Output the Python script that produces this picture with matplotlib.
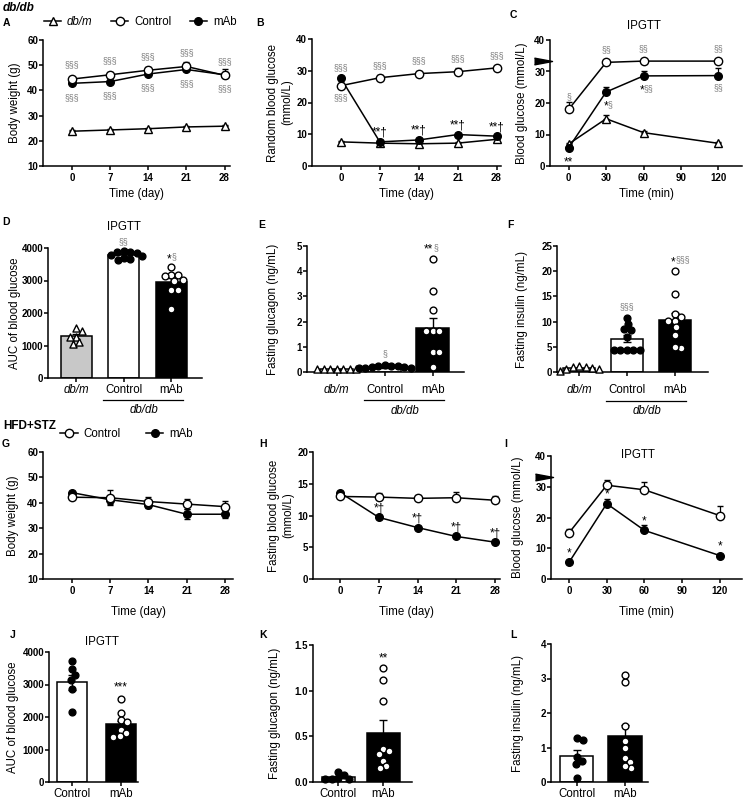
import numpy as np
import matplotlib
matplotlib.use('Agg')
import matplotlib.pyplot as plt
from matplotlib.lines import Line2D

plt.rcParams['font.family'] = ['Liberation Sans', 'DejaVu Sans']
plt.rcParams['axes.linewidth'] = 1.1
plt.rcParams['xtick.major.width'] = 1.1
plt.rcParams['ytick.major.width'] = 1.1
plt.rcParams['xtick.major.size'] = 3
plt.rcParams['ytick.major.size'] = 3

# ---------------- data ----------------
days = [0, 7, 14, 21, 28]
ipgtt_min = [0, 30, 60, 120]
groups3 = ['db/m', 'Control', 'mAb']
groups2 = ['Control', 'mAb']

# A: body weight db/db
a_dbm = [23.8, 24.3, 24.8, 25.5, 25.8]
a_dbm_err = [0.4, 0.4, 0.4, 0.4, 0.4]
a_ctrl = [44.5, 46.2, 48.0, 49.5, 46.0]
a_ctrl_err = [0.9, 1.0, 1.2, 1.8, 2.3]
a_mab = [42.8, 43.5, 46.5, 48.3, 46.2]
a_mab_err = [0.6, 0.7, 0.8, 0.9, 1.0]
a_ctrl_sig = ['§§§', '§§§', '§§§', '§§§', '§§§']
a_mab_sig = ['§§§', '§§§', '§§§', '§§§', '§§§']

# B: random blood glucose db/db
b_dbm = [7.6, 7.2, 7.0, 7.2, 8.4]
b_dbm_err = [0.3, 0.3, 0.3, 0.3, 0.4]
b_ctrl = [25.3, 27.8, 29.1, 29.7, 30.9]
b_ctrl_err = [0.8, 1.0, 0.7, 1.2, 0.6]
b_mab = [27.6, 7.6, 8.2, 9.9, 9.4]
b_mab_err = [0.6, 0.5, 0.5, 0.6, 0.6]
b_ctrl_sig = ['§§§', '§§§', '§§§', '§§§', '§§§']
b_mab_sig = ['§§§', '**†', '**†', '**†', '**†']

# C: IPGTT db/db
c_dbm = [7.0, 15.0, 10.6, 7.2]
c_dbm_err = [0.4, 1.3, 0.5, 0.4]
c_ctrl = [18.0, 32.9, 33.3, 33.3]
c_ctrl_err = [2.2, 0.3, 0.2, 0.2]
c_mab = [5.8, 23.5, 28.6, 28.7]
c_mab_err = [0.6, 1.5, 1.4, 2.3]
c_ctrl_sig = ['§', '§§', '§§', '§§']
c_mab_sig = ['**', '*§', '*§§', '§§']
meter_limit = 33.3

# D: AUC db/db
d_means = [1280, 3770, 2950]
d_sem = [75, 35, 120]
d_dbm_pts = [1550, 1450, 1270, 1270, 1040, 1100]
d_ctrl_pts = [3880, 3850, 3870, 3900, 3700, 3650, 3640, 3750, 3800]
d_mab_pts = [3420, 3180, 3160, 3150, 3030, 3000, 2720, 2700, 2120]
d_sig = ['', '§§', '*§']

# E: fasting glucagon db/db
e_means = [0.10, 0.18, 1.75]
e_sem = [0.01, 0.02, 0.40]
e_dbm_pts = [0.10, 0.11, 0.10, 0.12, 0.10, 0.11, 0.10]
e_ctrl_pts = [0.15, 0.18, 0.22, 0.25, 0.28, 0.20, 0.17, 0.24, 0.15]
e_mab_pts = [4.5, 3.2, 2.45, 1.62, 1.62, 1.62, 0.78, 0.78, 0.21]
e_sig = ['', '§', '**§']

# F: fasting insulin db/db
f_means = [0.7, 6.6, 10.4]
f_sem = [0.1, 0.7, 1.4]
f_dbm_pts = [0.9, 0.7, 0.5, 0.1, 0.6, 1.0, 1.1]
f_ctrl_pts = [10.8, 9.6, 8.6, 8.3, 7.0, 4.4, 4.4, 4.4, 4.4, 4.4]
f_mab_pts = [20.0, 15.5, 11.5, 11.0, 10.2, 10.2, 9.0, 7.3, 4.8, 5.0]
f_sig = ['', '§§§', '*§§§']

# G: body weight HFD+STZ
g_ctrl = [42.2, 42.0, 40.5, 39.5, 38.5]
g_ctrl_err = [0.6, 3.0, 1.8, 2.0, 2.2]
g_mab = [44.0, 41.2, 39.3, 35.5, 35.5]
g_mab_err = [0.7, 1.6, 1.3, 2.0, 1.5]

# H: fasting blood glucose HFD+STZ
h_ctrl = [13.0, 12.9, 12.7, 12.8, 12.4]
h_ctrl_err = [0.4, 0.7, 0.6, 0.9, 0.7]
h_mab = [13.6, 9.7, 8.1, 6.7, 5.8]
h_mab_err = [0.3, 0.4, 0.3, 0.3, 0.2]
h_mab_sig = ['', '*†', '*†', '*†', '*†']

# I: IPGTT HFD+STZ
i_ctrl = [15.0, 30.5, 29.0, 20.6]
i_ctrl_err = [1.2, 1.6, 2.4, 3.3]
i_mab = [5.4, 24.5, 15.8, 7.6]
i_mab_err = [0.4, 1.5, 1.8, 0.5]
i_mab_sig = ['*', '*', '*', '*']

# J: AUC HFD+STZ
j_means = [3070, 1780]
j_sem = [230, 110]
j_ctrl_pts = [3735, 3470, 3300, 3150, 2850, 2160]
j_mab_pts = [2550, 2130, 1920, 1850, 1600, 1500, 1380, 1410]
j_sig = ['', '***']

# K: fasting glucagon HFD+STZ
k_means = [0.055, 0.54]
k_sem = [0.015, 0.135]
k_ctrl_pts = [0.08, 0.11, 0.04, 0.03, 0.03, 0.03]
k_mab_pts = [1.25, 1.12, 0.89, 0.36, 0.34, 0.31, 0.23, 0.17, 0.15]
k_sig = ['', '**']

# L: fasting insulin HFD+STZ
l_means = [0.74, 1.33]
l_sem = [0.18, 0.33]
l_ctrl_pts = [1.22, 1.27, 0.72, 0.61, 0.51, 0.11]
l_mab_pts = [2.91, 3.10, 1.62, 1.19, 0.99, 0.70, 0.59, 0.41, 0.46]
l_sig = ['', '']

# ---------------- layout helpers ----------------
W, H = 747, 799
fig = plt.figure(figsize=(W / 100, H / 100), dpi=100)
GRAY = '#7a7a7a'
LAB = 8.3
TICK = 7


def make_ax(box, xlim, ylim, yticks, ylabels=None):
    l, t, r, b = box
    ax = fig.add_axes([l / W, 1 - b / H, (r - l) / W, (b - t) / H])
    ax.spines['top'].set_visible(False)
    ax.spines['right'].set_visible(False)
    ax.set_xlim(xlim)
    ax.set_ylim(ylim)
    if ylabels is None:
        ylabels = [str(v) for v in yticks]
    ax.set_yticks(yticks, labels=ylabels, fontweight='bold', fontsize=TICK)
    ax.tick_params(axis='y', pad=0.5)
    ax.tick_params(axis='x', pad=2)
    return ax


def set_ylab(ax, box, text, x_px):
    l, t, r, b = box
    ax.set_ylabel(text, fontsize=LAB, va='center', ha='center', multialignment='center')
    ax.yaxis.set_label_coords((x_px - l) / (r - l), 0.5)


def set_xlab(ax, box, text, y_px):
    l, t, r, b = box
    ax.set_xlabel(text, fontsize=LAB, va='center')
    ax.xaxis.set_label_coords(0.5, -(y_px - b) / (b - t))


def fig_text(x, y, s, **kw):
    fig.text(x / W, 1 - y / H, s, **kw)


def series(ax, x, y, err, marker, mfc, ms=6, two_sided=False):
    lower = err if two_sided else [0] * len(err)
    ax.errorbar(x, y, yerr=[lower, err], color='k', lw=1.1, marker=marker, ms=ms,
                mfc=mfc, mec='k', mew=1.0, capsize=2.3, elinewidth=0.9,
                capthick=0.9, zorder=3, clip_on=False)


def draw_sig(ax, xy, s, dx, dy):
    # black stars / daggers, gray section signs
    black = ''.join(c for c in s if c != '§')
    gray = ''.join(c for c in s if c == '§')
    kw = dict(xycoords='data', textcoords='offset points', va='center',
              annotation_clip=False)
    if black and gray:
        ax.annotate(black, xy, xytext=(dx + 0.3, dy - 1.5), ha='right', fontsize=8.5,
                    color='k', **kw)
        ax.annotate(gray, xy, xytext=(dx + 0.3, dy), ha='left', fontsize=6.3,
                    color=GRAY, **kw)
    elif black:
        ax.annotate(black, xy, xytext=(dx, dy - 1.5), ha='center', fontsize=8.5,
                    color='k', **kw)
    else:
        ax.annotate(gray, xy, xytext=(dx, dy), ha='center', fontsize=6.3,
                    color=GRAY, **kw)


def sig(ax, x, y, labels, dy_pt, dx_pt=None):
    for i, (xi, yi, s) in enumerate(zip(x, y, labels)):
        if s:
            dx = 0 if dx_pt is None else dx_pt[i]
            draw_sig(ax, (xi, yi), s, dx, dy_pt)


def meter_arrow(ax, box, y):
    l, t, r, b = box
    xa = -7.5 / (r - l)
    ax.plot([xa], [y], marker=[(-1.6, 0.6), (1.6, 0), (-1.6, -0.6)], ms=13, color='k',
            transform=ax.get_yaxis_transform(), clip_on=False, zorder=6)


def swarm_x(ax, xc, vals, dpx):
    disp = ax.transData.transform(np.column_stack([np.full(len(vals), xc), vals]))
    cx = disp[0, 0]
    ys = disp[:, 1]
    xs = np.full(len(vals), cx)
    placed = []
    for i in np.argsort(-ys):
        for k in range(400):
            m = (k + 1) // 2
            off = m * 0.5 * (1 if k % 2 else -1)
            if all((cx + off - px) ** 2 + (ys[i] - py) ** 2 >= dpx ** 2 for px, py in placed):
                break
        xs[i] = cx + off
        placed.append((xs[i], ys[i]))
    return ax.transData.inverted().transform(np.column_stack([xs, ys]))[:, 0]


STYLE = {
    'db/m': dict(marker='^', fc='white', s=26),
    'Control': dict(marker='o', fc='black', s=24),
    'mAb': dict(marker='o', fc='white', s=24),
}
BARC = {'db/m': '#c8c8c8', 'Control': 'white', 'mAb': 'black'}


def bar_panel(ax, groups, means, sems, pts, width, sigs, sig_dy=8):
    xs = np.arange(len(groups))
    ax.bar(xs, means, width=width, color=[BARC[g] for g in groups], edgecolor='k',
           lw=1.1, zorder=2)
    ax.errorbar(xs, means, yerr=sems, fmt='none', ecolor='k', elinewidth=1.0,
                capsize=3, capthick=1.0, zorder=3)
    for xi, g, p in zip(xs, groups, pts):
        st = STYLE[g]
        px = swarm_x(ax, xi, p, 6.2)
        ax.scatter(px, p, s=st['s'], marker=st['marker'], facecolors=st['fc'],
                   edgecolors='k', linewidths=1.0, zorder=4, clip_on=False)
    for xi, p, s in zip(xs, pts, sigs):
        if s:
            draw_sig(ax, (xi, max(p)), s, 0, sig_dy)
    ax.set_xticks(xs, labels=groups, fontsize=LAB)
    for lbl, g in zip(ax.get_xticklabels(), groups):
        if g == 'db/m':
            lbl.set_fontstyle('italic')


def dbdb_bracket(ax, box, y_line, y_text):
    l, t, r, b = box
    yl = -(y_line - b) / (b - t)
    yt = -(y_text - b) / (b - t)
    ax.plot([0.57, 2.24], [yl, yl], color='k', lw=0.9,
            transform=ax.get_xaxis_transform(), clip_on=False)
    ax.text(1.42, yt, 'db/db', style='italic', fontsize=LAB, ha='center', va='center',
            transform=ax.get_xaxis_transform())


def title_at(ax, box, x_data, y_px):
    l, t, r, b = box
    ax.text(x_data, (b - y_px) / (b - t), 'IPGTT', fontsize=LAB, ha='center', va='center',
            transform=ax.get_xaxis_transform())


def day_axis(ax):
    ax.set_xticks(days, labels=[str(d) for d in days], fontweight='bold', fontsize=TICK)


def min_axis(ax):
    ticks = [0, 30, 60, 90, 120]
    ax.set_xticks(ticks, labels=[str(t) for t in ticks], fontweight='bold', fontsize=TICK)


# ---------------- row 1 ----------------
boxA = (43, 40, 230, 166)
axA = make_ax(boxA, (-5.3, 29.0), (10, 60), [10, 20, 30, 40, 50, 60])
day_axis(axA)
series(axA, days, a_dbm, a_dbm_err, '^', 'white', ms=6)
series(axA, days, a_mab, a_mab_err, 'o', 'black', ms=5.5)
series(axA, days, a_ctrl, a_ctrl_err, 'o', 'white')
sig(axA, days, a_ctrl, a_ctrl_sig, 10)
sig(axA, days, a_mab, a_mab_sig, -10)
set_ylab(axA, boxA, 'Body weight (g)', 15)
set_xlab(axA, boxA, 'Time (day)', 194)
handles = [Line2D([], [], color='k', lw=1.1, marker='^', ms=6, mfc='white', mec='k'),
           Line2D([], [], color='k', lw=1.1, marker='o', ms=6, mfc='white', mec='k'),
           Line2D([], [], color='k', lw=1.1, marker='o', ms=5.5, mfc='black', mec='k')]
leg = axA.legend(handles, groups3, loc='center', bbox_to_anchor=(0.52, 1.145), ncol=3,
                 frameon=False, fontsize=LAB, handlelength=1.5, handletextpad=0.5,
                 columnspacing=1.6, borderaxespad=0)
leg.get_texts()[0].set_fontstyle('italic')

boxB = (312, 39, 501, 166)
axB = make_ax(boxB, (-5.2, 28.8), (0, 40), [0, 10, 20, 30, 40])
day_axis(axB)
series(axB, days, b_dbm, b_dbm_err, '^', 'white', ms=6)
series(axB, days, b_mab, b_mab_err, 'o', 'black', ms=5.5)
series(axB, days, b_ctrl, b_ctrl_err, 'o', 'white')
sig(axB, days[1:], b_ctrl[1:], b_ctrl_sig[1:], 9)
sig(axB, days[:1], b_ctrl[:1], b_ctrl_sig[:1], -9)
sig(axB, days[:1], b_mab[:1], b_mab_sig[:1], 8)
sig(axB, days[1:], b_mab[1:], b_mab_sig[1:], 8)
set_ylab(axB, boxB, 'Random blood glucose\n(mmol/L)', 280)
set_xlab(axB, boxB, 'Time (day)', 194)

boxC = (550, 40, 742, 166)
axC = make_ax(boxC, (-15, 139), (0, 40), [0, 10, 20, 30, 40])
min_axis(axC)
series(axC, ipgtt_min, c_dbm, c_dbm_err, '^', 'white', ms=6)
series(axC, ipgtt_min, c_mab, c_mab_err, 'o', 'black', ms=5.5)
series(axC, ipgtt_min, c_ctrl, c_ctrl_err, 'o', 'white')
sig(axC, ipgtt_min, c_ctrl, c_ctrl_sig, 9)
sig(axC, ipgtt_min, c_mab, c_mab_sig, -9, dx_pt=[0, 1, 0, 0])
meter_arrow(axC, boxC, meter_limit)
title_at(axC, boxC, 60, 26)
set_ylab(axC, boxC, 'Blood glucose (mmol/L)', 522)
set_xlab(axC, boxC, 'Time (min)', 194)

# ---------------- row 2 ----------------
boxD = (48, 248, 202, 378)
axD = make_ax(boxD, (-0.6, 2.65), (0, 4000), [0, 1000, 2000, 3000, 4000])
bar_panel(axD, groups3, d_means, d_sem, [d_dbm_pts, d_ctrl_pts, d_mab_pts], 0.66, d_sig, sig_dy=7)
axD.tick_params(axis='x', pad=1.5)
dbdb_bracket(axD, boxD, 400, 410)
title_at(axD, boxD, 1.0, 227)
set_ylab(axD, boxD, 'AUC of blood glucose', 15)

boxE = (307, 246, 464, 372)
axE = make_ax(boxE, (-0.62, 2.65), (0, 5), [0, 1, 2, 3, 4, 5])
bar_panel(axE, groups3, e_means, e_sem, [e_dbm_pts, e_ctrl_pts, e_mab_pts], 0.69, e_sig)
axE.tick_params(axis='x', pad=5.5)
dbdb_bracket(axE, boxE, 400, 411)
set_ylab(axE, boxE, 'Fasting glucagon (ng/mL)', 273)

boxF = (557, 246, 708, 372)
axF = make_ax(boxF, (-0.46, 2.69), (0, 25), [0, 5, 10, 15, 20, 25])
bar_panel(axF, groups3, f_means, f_sem, [f_dbm_pts, f_ctrl_pts, f_mab_pts], 0.67, f_sig)
axF.tick_params(axis='x', pad=5.5)
dbdb_bracket(axF, boxF, 401, 411)
set_ylab(axF, boxF, 'Fasting insulin (ng/mL)', 522)

# ---------------- row 3 ----------------
boxG = (43, 452, 233, 579)
axG = make_ax(boxG, (-5.3, 29.5), (10, 60), [10, 20, 30, 40, 50, 60])
day_axis(axG)
series(axG, days, g_mab, g_mab_err, 'o', 'black', ms=5.5, two_sided=True)
series(axG, days, g_ctrl, g_ctrl_err, 'o', 'white', two_sided=True)
set_ylab(axG, boxG, 'Body weight (g)', 13)
set_xlab(axG, boxG, 'Time (day)', 612)
legG = axG.legend(handles[1:], groups2, loc='center', bbox_to_anchor=(0.44, 1.14), ncol=2,
                  frameon=False, fontsize=LAB, handlelength=1.5, handletextpad=0.5,
                  columnspacing=2.2, borderaxespad=0)

boxH = (313, 452, 500, 579)
axH = make_ax(boxH, (-4.9, 28.9), (0, 20), [0, 5, 10, 15, 20])
day_axis(axH)
series(axH, days, h_mab, h_mab_err, 'o', 'black', ms=5.5)
series(axH, days, h_ctrl, h_ctrl_err, 'o', 'white')
sig(axH, days, h_mab, h_mab_sig, 8)
set_ylab(axH, boxH, 'Fasting blood glucose\n(mmol/L)', 281)
set_xlab(axH, boxH, 'Time (day)', 612)

boxI = (551, 456, 742, 579)
axI = make_ax(boxI, (-14.3, 137.5), (0, 40), [0, 10, 20, 30, 40])
min_axis(axI)
series(axI, ipgtt_min, i_mab, i_mab_err, 'o', 'black', ms=5.5)
series(axI, ipgtt_min, i_ctrl, i_ctrl_err, 'o', 'white')
sig(axI, ipgtt_min, i_mab, i_mab_sig, 8)
meter_arrow(axI, boxI, meter_limit)
title_at(axI, boxI, 55, 455)
set_ylab(axI, boxI, 'Blood glucose (mmol/L)', 518)
set_xlab(axI, boxI, 'Time (min)', 612)

# ---------------- row 4 ----------------
boxJ = (49, 652, 138, 782)
axJ = make_ax(boxJ, (-0.47, 1.35), (0, 4000), [0, 1000, 2000, 3000, 4000])
bar_panel(axJ, groups2, j_means, j_sem, [j_ctrl_pts, j_mab_pts], 0.62, j_sig, sig_dy=10)
axJ.tick_params(axis='x', pad=1.5)
title_at(axJ, boxJ, 0.62, 642)
set_ylab(axJ, boxJ, 'AUC of blood glucose', 13)

boxK = (313, 645, 412, 782)
axK = make_ax(boxK, (-0.56, 1.64), (0, 1.5), [0, 0.5, 1.0, 1.5], ['0.0', '0.5', '1.0', '1.5'])
bar_panel(axK, groups2, k_means, k_sem, [k_ctrl_pts, k_mab_pts], 0.73, k_sig, sig_dy=8)
axK.tick_params(axis='x', pad=1.5)
set_ylab(axK, boxK, 'Fasting glucagon (ng/mL)', 275)

boxL = (551, 644, 648, 782)
axL = make_ax(boxL, (-0.54, 1.48), (0, 4), [0, 1, 2, 3, 4])
bar_panel(axL, groups2, l_means, l_sem, [l_ctrl_pts, l_mab_pts], 0.69, l_sig)
axL.tick_params(axis='x', pad=1.5)
set_ylab(axL, boxL, 'Fasting insulin (ng/mL)', 518)

# ---------------- panel letters and headers ----------------
fig_text(3, 8, 'db/db', fontsize=8.5, fontweight='bold', style='italic', va='center')
fig_text(3, 426, 'HFD+STZ', fontsize=8.5, fontweight='bold', va='center')
letters = [('A', 6, 23), ('B', 260, 23), ('C', 513, 15), ('D', 6, 222), ('E', 262, 225),
           ('F', 510, 225), ('G', 6, 444), ('H', 263, 444), ('I', 506, 444),
           ('J', 13, 635), ('K', 263, 635), ('L', 513, 635)]
for s, x, y in letters:
    fig_text(x, y, s, fontsize=7.5, fontweight='bold', ha='center', va='center')

fig.savefig('out.png', dpi=100)
